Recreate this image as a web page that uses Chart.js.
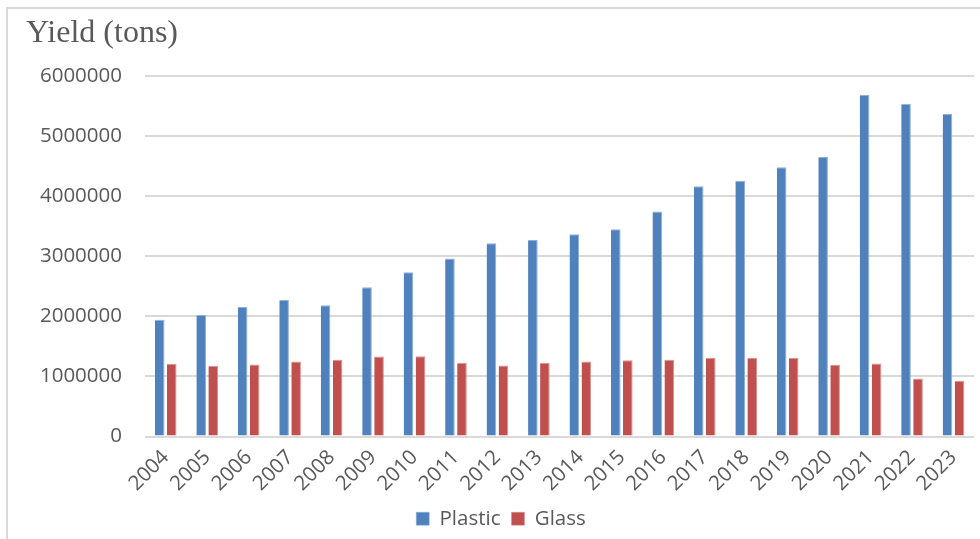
<!DOCTYPE html>
<html>
<head>
<meta charset="utf-8">
<script src="https://cdn.jsdelivr.net/npm/chart.js@4/dist/chart.umd.min.js"></script>
<style>
  html, body { margin: 0; padding: 0; background: #fff; }
  #wrap { position: relative; width: 980px; height: 539px; overflow: hidden; }
  #frame { position: absolute; left: 6px; top: 7px; width: 990px; height: 560px;
           border-left: 2px solid #d9d9d9; border-top: 2px solid #d9d9d9; box-sizing: border-box; }
  #chart { position: absolute; left: 0; top: 0; }
</style>
</head>
<body>
<div id="wrap">
  <div id="frame"></div>
  <canvas id="chart" width="980" height="539"></canvas>
</div>
<script>
// Annual yield by material
const years = ['2004','2005','2006','2007','2008','2009','2010','2011','2012','2013',
               '2014','2015','2016','2017','2018','2019','2020','2021','2022','2023'];
const plastic = [1945000, 2022000, 2161000, 2278000, 2183000, 2483000, 2733000, 2961000, 3217000, 3272000,
                 3367000, 3450000, 3745000, 4167000, 4256000, 4483000, 4650000, 5689000, 5539000, 5367000];
const glass = [1211000, 1172000, 1200000, 1250000, 1278000, 1333000, 1335000, 1228000, 1183000, 1222000,
               1250000, 1267000, 1278000, 1311000, 1311000, 1306000, 1194000, 1217000, 967000, 922000];
const yTicks = [0, 1000000, 2000000, 3000000, 4000000, 5000000, 6000000];

const textGray = '#595959';
const labelFont = { family: "'Open Sans', 'Noto Sans', sans-serif", size: 20.5 };

new Chart(document.getElementById('chart'), {
  type: 'bar',
  data: {
    labels: years,
    datasets: [
      { label: 'Plastic', data: plastic, backgroundColor: '#4F81BD',
        borderColor: '#8fb0d8', borderWidth: { left: 0, right: 1, top: 1, bottom: 0 } },
      { label: 'Glass', data: glass, backgroundColor: '#C0504D',
        borderColor: '#d99391', borderWidth: { left: 0, right: 1, top: 1, bottom: 0 } }
    ]
  },
  options: {
    responsive: false,
    animation: false,
    layout: { padding: { left: 26, right: 4, top: 14, bottom: 0 } },
    datasets: { bar: { categoryPercentage: 0.58, barPercentage: 0.8 } },
    plugins: {
      title: {
        display: true,
        text: 'Yield (tons)',
        align: 'start',
        color: textGray,
        font: { family: "'Liberation Serif', 'DejaVu Serif', serif", size: 32, weight: 'normal' },
        padding: { top: 0, bottom: 23.6 }
      },
      legend: {
        position: 'bottom',
        labels: {
          color: textGray,
          font: labelFont,
          boxWidth: 13,
          boxHeight: 13,
          padding: 11
        }
      },
      tooltip: { enabled: false }
    },
    scales: {
      x: {
        grid: { display: false, drawTicks: false },
        border: { display: false },
        ticks: { color: textGray, font: labelFont, maxRotation: 45, minRotation: 45, padding: 9, autoSkip: false },
        afterFit: (s) => { s.height = 61; }
      },
      y: {
        min: 0,
        max: 6000000,
        afterBuildTicks: (s) => { s.ticks = yTicks.map(v => ({ value: v })); },
        grid: { color: '#d9d9d9', lineWidth: 2, drawTicks: false },
        border: { display: false },
        ticks: { color: textGray, font: labelFont, padding: 23, callback: (v) => String(v) },
        afterFit: (s) => { s.width = 119; }
      }
    }
  }
});
</script>
</body>
</html>
